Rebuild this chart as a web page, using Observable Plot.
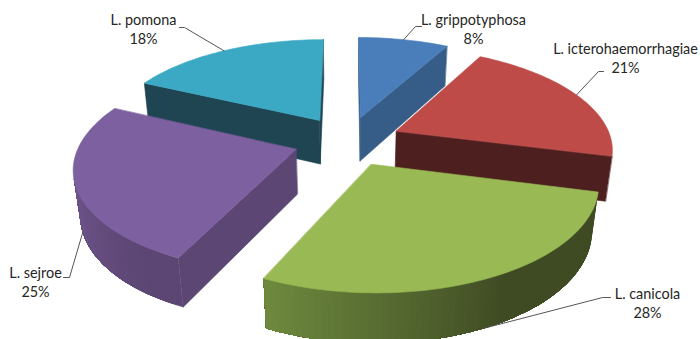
<!DOCTYPE html>
<html>
<head>
<meta charset="utf-8">
<style>
  html, body { margin: 0; padding: 0; background: #fff; }
  svg { display: block; }
</style>
<script src="https://cdn.jsdelivr.net/npm/d3@7"></script>
<script src="https://cdn.jsdelivr.net/npm/@observablehq/plot@0.6"></script>
</head>
<body>
<script>
// Serovar shares, clockwise from twelve o'clock
const serovars = ["L. grippotyphosa", "L. icterohaemorrhagiae", "L. canicola", "L. sejroe", "L. pomona"];
const shares = [8, 21, 28, 25, 18];

// Face colours for each wedge
const topColors = ["#4a7ebb", "#be4b48", "#98b954", "#7d60a0", "#3ba9c4"];
const wallColors = ["#355d87", "#4e1f1f", "#3f4b23", "#5c4673", "#1f4452"];
const rimLightColors = ["#355d87", "#4e1f1f", "#6e8a3e", "#7a5e9b", "#1f4452"];
const rimLightAngles = [0, 0, 205, 280, 0];
const rimDarkAngles = [0, 0, 150, 215, 0];

// Label placement in pixels: text centre, then the leader's elbow and end
const labelX = [473, 625, 647, 35, 143];
const labelY = [28, 57, 302, 281, 28];
const elbows = [[[415, 26], [421, 26]], [[598, 71], [603, 71]], [[602, 297], [610, 297]], [[69, 277], [63, 277]], [[184, 27], [179, 27]]];

// Perspective camera for the tilted pie, radius = 1
const view = {cx: 347, cy: 140.3, sx: 215.5, sy: 99.7, persp: 0.16, thick: 45.6, thickPersp: 0.025, explode: 0.25};

function project(u, v, low) {
  const w = 1 + view.persp * v + (low ? view.thickPersp : 0);
  return {
    x: view.cx + view.sx * u / w,
    y: view.cy - (view.sy * v - (low ? view.thick : 0)) / w
  };
}

const wedges = d3.pie().sort(null).value(d => d)(shares);

function rimPoint(wedge, angle, low) {
  const mid = (wedge.startAngle + wedge.endAngle) / 2;
  const ox = view.explode * Math.sin(mid), oy = view.explode * Math.cos(mid);
  return project(ox + Math.sin(angle), oy + Math.cos(angle), low);
}
function apexPoint(wedge, low) {
  const mid = (wedge.startAngle + wedge.endAngle) / 2;
  return project(view.explode * Math.sin(mid), view.explode * Math.cos(mid), low);
}
function signedArea(poly) {
  return d3.sum(poly, (p, i) => {
    const q = poly[(i + 1) % poly.length];
    return p.x * q.y - q.x * p.y;
  });
}

function rimColor(i, angle) {
  const deg = angle * 180 / Math.PI;
  const a = rimLightAngles[i], b = rimDarkAngles[i];
  if (a === b) return wallColors[i];
  const t = Math.max(0, Math.min(1, (deg - a) / (b - a)));
  return d3.interpolateRgb(rimLightColors[i], wallColors[i])(t);
}

// Painter's order: back wedges first, the front wedge last
const paintOrder = [0, 4, 1, 3, 2];
const step = 1.5 * Math.PI / 180;
const vertices = [];
let faceId = 0;
function pushFace(poly, color, edge) {
  const id = faceId++;
  poly.forEach(p => vertices.push({x: p.x, y: p.y, id, color, edge}));
}

for (const i of paintOrder) {
  const wedge = wedges[i];
  const n = Math.ceil((wedge.endAngle - wedge.startAngle) / step);
  const angles = d3.range(n + 1).map(k => wedge.startAngle + (wedge.endAngle - wedge.startAngle) * k / n);

  // Flat side walls; only those turned toward the camera show
  [
    [apexPoint(wedge, false), rimPoint(wedge, wedge.startAngle, false), rimPoint(wedge, wedge.startAngle, true), apexPoint(wedge, true)],
    [rimPoint(wedge, wedge.endAngle, false), apexPoint(wedge, false), apexPoint(wedge, true), rimPoint(wedge, wedge.endAngle, true)]
  ].filter(p => signedArea(p) < 0).forEach(p => pushFace(p, wallColors[i], 0.6));

  // Curved wall: each band reaches to the far end of the visible rim and the
  // next band paints over it, so neighbouring bands never show a seam
  const visible = d3.pairs(angles)
    .filter(([a, b]) => signedArea([rimPoint(wedge, a, false), rimPoint(wedge, b, false), rimPoint(wedge, b, true), rimPoint(wedge, a, true)]) < 0);
  visible.forEach(([a], k) => {
    const rest = [a, ...visible.slice(k).map(s => s[1])];
    const poly = [...rest.map(t => rimPoint(wedge, t, false)), ...rest.slice().reverse().map(t => rimPoint(wedge, t, true))];
    pushFace(poly, rimColor(i, a + step / 2), 0);
  });

  pushFace([apexPoint(wedge, false), ...angles.map(a => rimPoint(wedge, a, false))], topColors[i], 0.6);
}

// Leader lines run from the middle of each wedge's rim to its label
const leaders = wedges.flatMap((wedge, i) => {
  const mid = (wedge.startAngle + wedge.endAngle) / 2;
  const low = i === 2 || i === 3;
  const start = rimPoint(wedge, mid, low);
  return [start, ...elbows[i].map(([x, y]) => ({x, y}))].map(p => ({x: p.x, y: p.y, i}));
});

const labels = serovars.map((name, i) => ({
  text: `${name}\n${shares[i]}%`,
  x: labelX[i],
  y: labelY[i]
}));

const chart = Plot.plot({
  width: 700,
  height: 339,
  margin: 0,
  x: {domain: [0, 700], range: [0, 700], axis: null},
  y: {domain: [0, 339], range: [0, 339], axis: null},
  style: {background: "#fff", fontFamily: "Lato, sans-serif"},
  marks: [
    Plot.line(vertices, {
      x: "x", y: "y", z: "id",
      fill: d => d.color, stroke: d => d.color, strokeWidth: d => d.edge,
      curve: "linear-closed"
    }),
    Plot.line(leaders, {x: "x", y: "y", z: "i", stroke: "#555", strokeWidth: 1}),
    Plot.text(labels, {
      x: "x", y: "y", text: "text",
      fontSize: 14.4, lineHeight: 1.33, fill: "#262626", textAnchor: "middle"
    })
  ]
});
document.body.appendChild(chart);
</script>
</body>
</html>
